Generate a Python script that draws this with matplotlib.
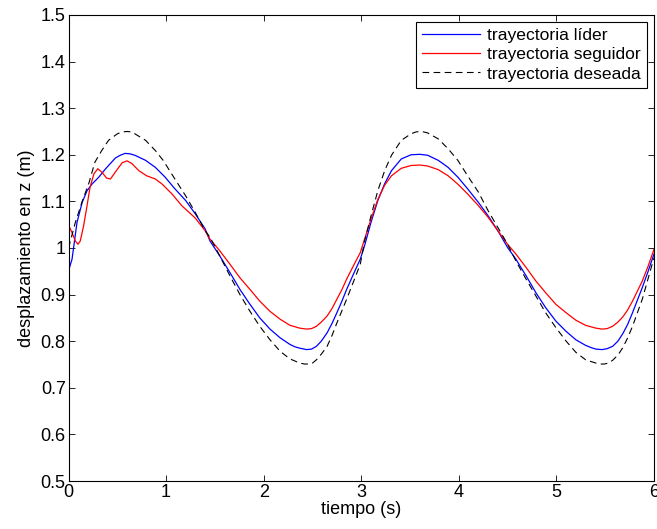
import matplotlib
matplotlib.use("Agg")
import matplotlib.pyplot as plt

plt.rcParams["font.family"] = ["Liberation Sans", "DejaVu Sans"]

# values
t_lider = [0.0, 0.036, 0.087, 0.14, 0.19, 0.24, 0.31, 0.38, 0.48, 0.53, 0.58, 0.63, 0.68,
           0.79, 0.89, 0.99, 1.09, 1.2, 1.3, 1.4, 1.45, 1.55, 1.655, 1.757, 1.86, 1.96,
           2.065, 2.17, 2.27, 2.32, 2.37, 2.44, 2.49, 2.54, 2.59, 2.65, 2.70, 2.75, 2.80,
           2.85, 2.92, 2.99, 3.034, 3.10, 3.17, 3.24, 3.31, 3.41, 3.51, 3.60, 3.68, 3.79,
           3.89, 3.99, 4.09, 4.20, 4.30, 4.40, 4.50, 4.585, 4.69, 4.79, 4.89, 4.995, 5.10,
           5.20, 5.30, 5.36, 5.405, 5.47, 5.52, 5.576, 5.63, 5.68, 5.73, 5.78, 5.88, 5.94,
           6.0]
z_lider = [0.951, 0.976, 1.055, 1.098, 1.123, 1.137, 1.152, 1.170, 1.193, 1.199, 1.203,
           1.202, 1.199, 1.188, 1.173, 1.152, 1.127, 1.102, 1.073, 1.041, 1.015, 0.983,
           0.947, 0.911, 0.879, 0.850, 0.826, 0.807, 0.793, 0.788, 0.785, 0.782, 0.783,
           0.789, 0.800, 0.818, 0.838, 0.861, 0.885, 0.911, 0.944, 0.976, 1.005, 1.055,
           1.102, 1.138, 1.166, 1.191, 1.200, 1.201, 1.199, 1.188, 1.173, 1.152, 1.127,
           1.098, 1.069, 1.037, 1.001, 0.976, 0.940, 0.904, 0.872, 0.843, 0.821, 0.803,
           0.791, 0.786, 0.783, 0.782, 0.784, 0.789, 0.800, 0.816, 0.836, 0.861, 0.915,
           0.950, 0.987]

t_seguidor = [0.0, 0.036, 0.07, 0.097, 0.12, 0.155, 0.19, 0.22, 0.26, 0.30, 0.34, 0.39,
              0.43, 0.48, 0.55, 0.60, 0.65, 0.72, 0.80, 0.89, 0.96, 1.06, 1.16, 1.30,
              1.40, 1.45, 1.55, 1.655, 1.757, 1.86, 1.96, 2.065, 2.17, 2.27, 2.37, 2.44,
              2.49, 2.54, 2.59, 2.65, 2.70, 2.75, 2.80, 2.85, 2.92, 2.99, 3.034, 3.10,
              3.17, 3.24, 3.31, 3.41, 3.51, 3.60, 3.68, 3.79, 3.89, 3.99, 4.09, 4.20, 4.30,
              4.40, 4.50, 4.585, 4.69, 4.79, 4.89, 4.995, 5.10, 5.20, 5.30, 5.405, 5.47,
              5.52, 5.576, 5.63, 5.68, 5.73, 5.78, 5.88, 5.94, 6.0]
z_seguidor = [1.049, 1.033, 1.015, 1.008, 1.015, 1.048, 1.091, 1.130, 1.159, 1.170, 1.163,
              1.150, 1.148, 1.163, 1.183, 1.187, 1.181, 1.166, 1.155, 1.148, 1.137, 1.116,
              1.091, 1.064, 1.037, 1.019, 0.994, 0.965, 0.936, 0.911, 0.886, 0.864, 0.847,
              0.834, 0.828, 0.826, 0.827, 0.832, 0.841, 0.854, 0.870, 0.890, 0.910, 0.933,
              0.962, 0.990, 1.019, 1.062, 1.104, 1.135, 1.155, 1.171, 1.177, 1.178, 1.176,
              1.168, 1.155, 1.137, 1.116, 1.091, 1.066, 1.037, 1.008, 0.987, 0.958, 0.929,
              0.904, 0.879, 0.861, 0.845, 0.834, 0.828, 0.826, 0.827, 0.832, 0.841, 0.852,
              0.867, 0.886, 0.929, 0.961, 0.997]

t_deseada = [0.0, 0.07, 0.14, 0.21, 0.27, 0.34, 0.41, 0.50, 0.55, 0.60, 0.65, 0.68, 0.79,
             0.89, 0.97, 1.09, 1.2, 1.3, 1.4, 1.45, 1.55, 1.655, 1.757, 1.86, 1.96, 2.065,
             2.17, 2.27, 2.37, 2.42, 2.46, 2.50, 2.54, 2.59, 2.65, 2.70, 2.75, 2.85, 2.99,
             3.034, 3.10, 3.17, 3.24, 3.31, 3.41, 3.51, 3.56, 3.60, 3.64, 3.68, 3.79, 3.89,
             3.99, 4.09, 4.20, 4.30, 4.40, 4.50, 4.585, 4.69, 4.79, 4.89, 4.995, 5.10, 5.20,
             5.30, 5.405, 5.45, 5.49, 5.53, 5.576, 5.63, 5.68, 5.73, 5.78, 5.88, 6.0]
z_deseada = [1.000, 1.055, 1.100, 1.140, 1.184, 1.209, 1.231, 1.245, 1.249, 1.250, 1.249,
             1.245, 1.231, 1.209, 1.188, 1.148, 1.112, 1.076, 1.037, 1.023, 0.983, 0.940,
             0.900, 0.864, 0.832, 0.803, 0.778, 0.762, 0.753, 0.751, 0.751, 0.753, 0.760,
             0.772, 0.789, 0.812, 0.839, 0.890, 0.965, 1.015, 1.069, 1.123, 1.166, 1.199,
             1.231, 1.245, 1.249, 1.250, 1.249, 1.247, 1.234, 1.213, 1.188, 1.155, 1.120,
             1.080, 1.044, 1.008, 0.972, 0.933, 0.897, 0.861, 0.829, 0.800, 0.776, 0.760,
             0.753, 0.751, 0.751, 0.753, 0.759, 0.770, 0.786, 0.807, 0.832, 0.890, 0.979]

fig = plt.figure(figsize=(6.57, 5.29), dpi=100)
ax = fig.add_axes([0.1043, 0.0907, 0.8911, 0.8810])

ax.plot(t_lider, z_lider, color="#0000ff", lw=0.9, label="trayectoria líder")
ax.plot(t_seguidor, z_seguidor, color="#ff0000", lw=0.9, label="trayectoria seguidor")
ax.plot(t_deseada, z_deseada, color="black", lw=0.8, dashes=(6, 4),
        label="trayectoria deseada")

ax.set_xlim(0, 6)
ax.set_ylim(0.5, 1.5)
ax.set_xticks(range(7))
ax.set_yticks([0.5, 0.6, 0.7, 0.8, 0.9, 1.0, 1.1, 1.2, 1.3, 1.4, 1.5])
ax.set_yticklabels(["0.5", "0.6", "0.7", "0.8", "0.9", "1", "1.1", "1.2", "1.3", "1.4", "1.5"])
ax.tick_params(direction="in", top=True, right=True, length=4, width=0.6,
               labelsize=13, pad=2)
for s in ax.spines.values():
    s.set_linewidth(0.8)

ax.set_xlabel("tiempo (s)", fontsize=13, labelpad=0)
ax.set_ylabel("desplazamiento en z (m)", fontsize=13, labelpad=4)

leg = ax.legend(loc="upper right", fontsize=12.6, handlelength=3.3, fancybox=False,
                framealpha=1, edgecolor="black", borderaxespad=0.4,
                borderpad=0.35, labelspacing=0.22, handletextpad=0.4)
leg.get_frame().set_linewidth(0.8)

fig.savefig("out.png", dpi=100)
